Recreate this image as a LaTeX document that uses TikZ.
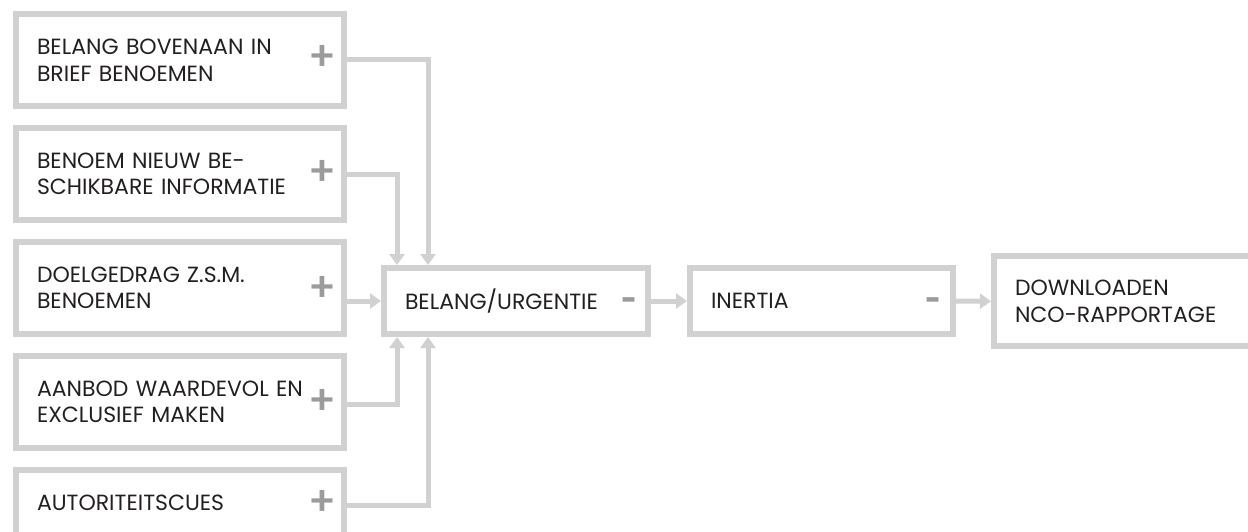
\documentclass[tikz,border=0pt]{standalone}
\usepackage{fontspec}
\setmainfont{Poppins}
\newfontfamily\signfont{Fira Sans}
\usetikzlibrary{arrows.meta}
\definecolor{boxgray}{HTML}{D1D1D1}
\definecolor{signgray}{HTML}{9B9B9B}
\definecolor{ink}{HTML}{231F20}
\newcommand{\lblfont}{\fontsize{22pt}{26.7pt}\selectfont}
\begin{document}
\begin{tikzpicture}[x=1pt,y=-1pt,
  box/.style={draw=boxgray, line width=6pt, outer sep=3pt, inner ysep=0pt,
    inner xsep=21pt, align=left, font=\lblfont, text=ink, rectangle},
  leftbox/.style={box, minimum width=328pt, text width=286pt, minimum height=92pt},
  sign/.style={text=signgray, inner sep=0pt, font=\signfont\fontsize{56pt}{56pt}\selectfont},
  minus/.style={text=signgray, inner sep=0pt, font=\signfont\bfseries\fontsize{37pt}{37pt}\selectfont},
  conn/.style={draw=boxgray, line width=5pt, -{Triangle[width=15pt,length=11pt]}}]
\useasboundingbox (0,0) rectangle (1248,532);

\node[leftbox] (b1) at (180,60.5) {BELANG BOVENAAN IN\\BRIEF BENOEMEN};
\node[leftbox] (b2) at (180,173.7) {BENOEM NIEUW BE-\\SCHIKBARE INFORMATIE};
\node[leftbox] (b3) at (180,287.9) {DOELGEDRAG Z.S.M.\\BENOEMEN};
\node[leftbox] (b4) at (180,401.9) {AANBOD WAARDEVOL EN\\EXCLUSIEF MAKEN};
\node[box, minimum width=328pt, text width=286pt, minimum height=66pt] (b5) at (180,502.7) {AUTORITEITSCUES};

\node[box, minimum width=264pt, text width=222pt, minimum height=66pt] (b6) at (516,301) {BELANG/URGENTIE};
\node[box, minimum width=263pt, text width=221pt, minimum height=66pt] (b7) at (821.5,301) {INERTIA};
\node[box, minimum width=300pt, text width=258pt, minimum height=90pt] (b8) at (1144,301.3) {DOWNLOADEN\\NCO-RAPPORTAGE};

\node[sign] (p1) at (322.5,60) {+};
\node[sign] (p2) at (322.5,174.5) {+};
\node[sign] (p3) at (322.5,290.5) {+};
\node[sign] (p4) at (322.5,404) {+};
\node[sign] (p5) at (322.5,505) {+};
\node[minus] (m6) at (629.5,304.5) {-};
\node[minus] (m7) at (933.5,304.5) {-};

\draw[conn] (b1.east |- p1) -| ([xshift=47pt]b6.north west);
\draw[conn] (b2.east |- p2) -| ([xshift=16pt]b6.north west);
\draw[conn] (b3.east |- b6.west) -- (b6.west);
\draw[conn] (b4.east |- p4) -| ([xshift=16pt]b6.south west);
\draw[conn] (b5.east |- p5) -| ([xshift=47pt]b6.south west);
\draw[conn] (b6.east) -- (b7.west);
\draw[conn] (b7.east) -- (b8.west);
\end{tikzpicture}
\end{document}
